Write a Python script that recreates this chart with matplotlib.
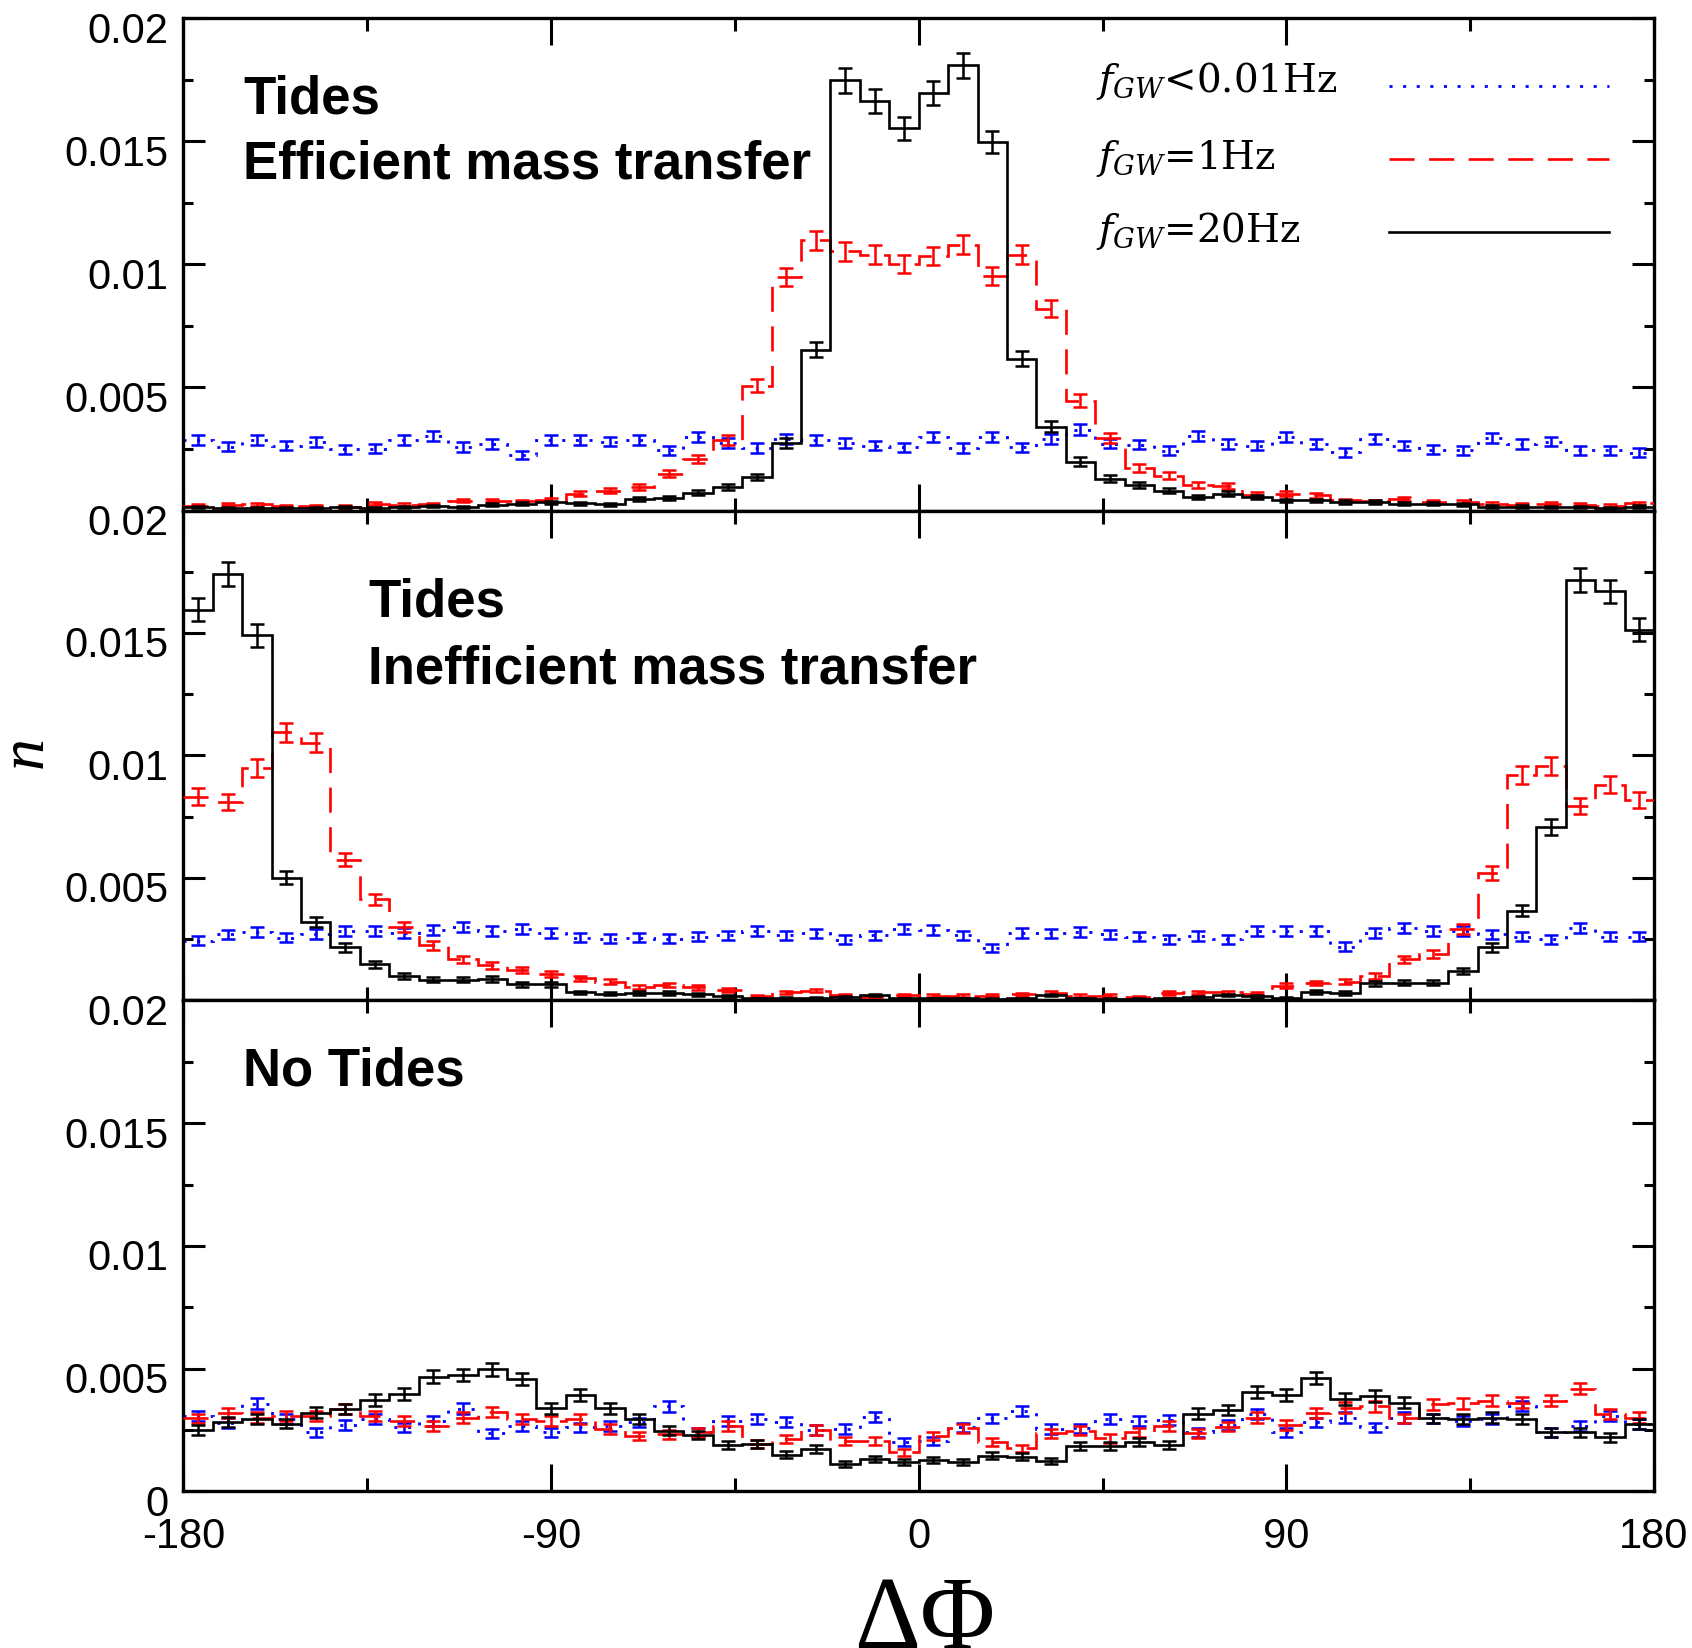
import numpy as np
import matplotlib
matplotlib.use("Agg")
import matplotlib.pyplot as plt
from matplotlib.lines import Line2D
from matplotlib.ticker import FixedLocator, MultipleLocator
from matplotlib.transforms import ScaledTranslation

plt.rcParams["font.family"] = ["Liberation Sans", "DejaVu Sans"]
plt.rcParams["mathtext.fontset"] = "dejavuserif"

# ---- binning of the phase difference (degrees), 50 bins over [-180, 180] ----
phase_edges = np.linspace(-180.0, 180.0, 51)
x_ticks = [-180, -90, 0, 90, 180]
x_minor = [-135, -45, 45, 135]
y_ticks = [0, 0.005, 0.01, 0.015, 0.02]
y_labels_full = ["0", "0.005", "0.01", "0.015", "0.02"]
y_labels_upper = ["", "0.005", "0.01", "0.015", "0.02"]

# sample size per model, used for the Poisson error on each bin
n_sample = 10000

# ---- Tides, efficient mass transfer ----
eff_low = [0.00287, 0.00260, 0.00285, 0.00264, 0.00278, 0.00248, 0.00251, 0.00285, 0.00303, 0.00258,
           0.00271, 0.00226, 0.00285, 0.00287, 0.00280, 0.00285, 0.00244, 0.00298, 0.00275, 0.00254,
           0.00291, 0.00285, 0.00275, 0.00264, 0.00257, 0.00300, 0.00254, 0.00300, 0.00257, 0.00290,
           0.00329, 0.00272, 0.00268, 0.00242, 0.00303, 0.00270, 0.00264, 0.00300, 0.00270, 0.00237,
           0.00291, 0.00264, 0.00247, 0.00244, 0.00294, 0.00270, 0.00280, 0.00244, 0.00244, 0.00234]
eff_1hz = [0.00020, 0.00024, 0.00025, 0.00018, 0.00018, 0.00016, 0.00027, 0.00024, 0.00026, 0.00040,
           0.00040, 0.00037, 0.00042, 0.00068, 0.00081, 0.00095, 0.00150, 0.00210, 0.00285, 0.00508,
           0.00949, 0.01098, 0.01053, 0.01040, 0.01003, 0.01034, 0.01080, 0.00953, 0.01040, 0.00820,
           0.00447, 0.00296, 0.00174, 0.00142, 0.00102, 0.00100, 0.00064, 0.00068, 0.00062, 0.00041,
           0.00037, 0.00045, 0.00034, 0.00034, 0.00027, 0.00024, 0.00027, 0.00024, 0.00020, 0.00030]
eff_20hz = [0.00015, 0.00012, 0.00010, 0.00010, 0.00012, 0.00015, 0.00012, 0.00015, 0.00018, 0.00015,
            0.00024, 0.00028, 0.00033, 0.00030, 0.00026, 0.00045, 0.00050, 0.00072, 0.00095, 0.00136,
            0.00275, 0.00653, 0.01748, 0.01663, 0.01554, 0.01697, 0.01809, 0.01498, 0.00617, 0.00341,
            0.00199, 0.00129, 0.00105, 0.00080, 0.00054, 0.00068, 0.00054, 0.00041, 0.00041, 0.00034,
            0.00034, 0.00027, 0.00027, 0.00025, 0.00016, 0.00016, 0.00014, 0.00014, 0.00012, 0.00016]

# ---- Tides, inefficient mass transfer ----
ineff_low = [0.00243, 0.00270, 0.00279, 0.00256, 0.00272, 0.00283, 0.00283, 0.00276, 0.00287, 0.00300,
             0.00283, 0.00290, 0.00276, 0.00256, 0.00252, 0.00256, 0.00252, 0.00260, 0.00266, 0.00283,
             0.00266, 0.00274, 0.00247, 0.00266, 0.00293, 0.00287, 0.00266, 0.00215, 0.00276, 0.00274,
             0.00280, 0.00270, 0.00260, 0.00250, 0.00263, 0.00250, 0.00283, 0.00283, 0.00283, 0.00220,
             0.00276, 0.00297, 0.00283, 0.00283, 0.00270, 0.00260, 0.00250, 0.00294, 0.00260, 0.00260]
ineff_1hz = [0.00832, 0.00809, 0.00948, 0.01094, 0.01052, 0.00575, 0.00412, 0.00300, 0.00225, 0.00168,
             0.00144, 0.00125, 0.00107, 0.00090, 0.00076, 0.00056, 0.00063, 0.00053, 0.00043, 0.00016,
             0.00033, 0.00040, 0.00022, 0.00013, 0.00022, 0.00020, 0.00020, 0.00020, 0.00026, 0.00030,
             0.00020, 0.00020, 0.00014, 0.00030, 0.00033, 0.00033, 0.00027, 0.00060, 0.00071, 0.00076,
             0.00100, 0.00168, 0.00189, 0.00290, 0.00520, 0.00920, 0.00957, 0.00794, 0.00880, 0.00819]
ineff_20hz = [0.01594, 0.01740, 0.01490, 0.00500, 0.00320, 0.00216, 0.00147, 0.00100, 0.00084, 0.00084,
              0.00088, 0.00065, 0.00065, 0.00033, 0.00028, 0.00030, 0.00030, 0.00026, 0.00016, 0.00008,
              0.00010, 0.00010, 0.00015, 0.00022, 0.00008, 0.00008, 0.00008, 0.00006, 0.00008, 0.00022,
              0.00008, 0.00006, 0.00006, 0.00008, 0.00012, 0.00022, 0.00016, 0.00010, 0.00035, 0.00030,
              0.00069, 0.00073, 0.00073, 0.00120, 0.00216, 0.00367, 0.00708, 0.01717, 0.01670, 0.01514]

# ---- No tides ----
notide_low = [0.00308, 0.00280, 0.00358, 0.00294, 0.00240, 0.00270, 0.00294, 0.00261, 0.00287, 0.00337,
              0.00236, 0.00267, 0.00240, 0.00261, 0.00267, 0.00281, 0.00346, 0.00240, 0.00287, 0.00294,
              0.00283, 0.00250, 0.00254, 0.00304, 0.00202, 0.00206, 0.00261, 0.00297, 0.00328, 0.00254,
              0.00257, 0.00294, 0.00287, 0.00290, 0.00240, 0.00270, 0.00314, 0.00240, 0.00281, 0.00301,
              0.00261, 0.00301, 0.00297, 0.00287, 0.00294, 0.00348, 0.00240, 0.00267, 0.00308, 0.00274]
notide_1hz = [0.00297, 0.00320, 0.00301, 0.00308, 0.00308, 0.00335, 0.00308, 0.00287, 0.00267, 0.00301,
              0.00324, 0.00294, 0.00287, 0.00294, 0.00254, 0.00226, 0.00233, 0.00240, 0.00267, 0.00193,
              0.00213, 0.00250, 0.00206, 0.00206, 0.00159, 0.00226, 0.00257, 0.00202, 0.00175, 0.00236,
              0.00247, 0.00216, 0.00240, 0.00267, 0.00236, 0.00264, 0.00301, 0.00271, 0.00319, 0.00341,
              0.00346, 0.00297, 0.00355, 0.00359, 0.00369, 0.00362, 0.00370, 0.00419, 0.00315, 0.00301]
notide_20hz = [0.00250, 0.00283, 0.00294, 0.00276, 0.00321, 0.00335, 0.00372, 0.00396, 0.00467, 0.00474,
               0.00498, 0.00457, 0.00339, 0.00393, 0.00339, 0.00294, 0.00247, 0.00230, 0.00189, 0.00193,
               0.00149, 0.00172, 0.00111, 0.00132, 0.00121, 0.00128, 0.00121, 0.00145, 0.00141, 0.00124,
               0.00186, 0.00186, 0.00202, 0.00188, 0.00317, 0.00331, 0.00405, 0.00392, 0.00463, 0.00376,
               0.00389, 0.00362, 0.00297, 0.00294, 0.00301, 0.00294, 0.00240, 0.00240, 0.00220, 0.00274]

series_names = [r"$f_{GW}$<0.01Hz", r"$f_{GW}$=1Hz", r"$f_{GW}$=20Hz"]
series_colors = ["#0000ff", "#ff0000", "#000000"]
series_styles = [(0, (1.1, 3.8)), (0, (9.5, 5.5)), "-"]
series_widths = [2.0, 1.9, 1.9]

# ---- figure and stacked panels (pixel geometry at 100 dpi) ----
FIG_W, FIG_H = 1692, 1649
fig = plt.figure(figsize=(FIG_W / 100, FIG_H / 100), dpi=100)
left_px, right_px = 183.4, 1654.0


def panel_rect(top_px, bottom_px):
    return [left_px / FIG_W, 1 - bottom_px / FIG_H,
            (right_px - left_px) / FIG_W, (bottom_px - top_px) / FIG_H]


ax_top = fig.add_axes(panel_rect(19.4, 511.5))
ax_mid = fig.add_axes(panel_rect(511.5, 1001.4))
ax_bot = fig.add_axes(panel_rect(1001.4, 1492.4))

centers = 0.5 * (phase_edges[:-1] + phase_edges[1:])
widths = np.diff(phase_edges)


def draw_series(ax, values, color, ls, lw, z):
    v = np.asarray(values)
    # Poisson counting error of a per-degree density histogram
    err = np.sqrt(v / (widths * n_sample))
    ax.stairs(v, phase_edges, baseline=None, color=color, linestyle=ls,
              linewidth=lw, zorder=z)
    ax.errorbar(centers, v, yerr=err, fmt="none", ecolor=color, elinewidth=1.8,
                capsize=5.0, capthick=1.8, zorder=z)


panels = [
    (ax_top, [eff_low, eff_1hz, eff_20hz], y_labels_upper),
    (ax_mid, [ineff_low, ineff_1hz, ineff_20hz], y_labels_upper),
    (ax_bot, [notide_low, notide_1hz, notide_20hz], y_labels_full),
]

label_shift = ScaledTranslation(0, -8 / 100, fig.dpi_scale_trans)

for ax, series, ylabels in panels:
    for i, vals in enumerate(series):
        draw_series(ax, vals, series_colors[i], series_styles[i], series_widths[i], 2 + i)
    ax.set_xlim(-180, 180)
    ax.set_ylim(0, 0.02)
    ax.xaxis.set_major_locator(FixedLocator(x_ticks))
    ax.xaxis.set_minor_locator(FixedLocator(x_minor))
    ax.set_yticks(y_ticks, labels=ylabels)
    ax.yaxis.set_minor_locator(MultipleLocator(0.0025))
    ax.tick_params(which="both", direction="in", top=True, right=True,
                   width=2.2, color="black", labelsize=30)
    ax.tick_params(axis="x", which="major", length=19.4, pad=18)
    ax.tick_params(axis="x", which="minor", length=9.4)
    ax.tick_params(axis="y", which="major", length=15.8, pad=11)
    ax.tick_params(axis="y", which="minor", length=7.2)
    for sp in ax.spines.values():
        sp.set_linewidth(2.4)
    for t in ax.yaxis.get_major_ticks():
        t.label1.set_transform(t.label1.get_transform() + label_shift)

ax_top.tick_params(labelbottom=False)
ax_mid.tick_params(labelbottom=False)
ax_bot.set_xticks(x_ticks, labels=[str(v) for v in x_ticks])

# ---- panel captions ----
cap_kw = dict(fontsize=38, fontweight="bold", ha="left", va="baseline")
ax_top.text(0.0405, 0.8086, "Tides", transform=ax_top.transAxes, **cap_kw)
ax_top.text(0.0405, 0.6765, "Efficient mass transfer", transform=ax_top.transAxes, **cap_kw)
ax_mid.text(0.1255, 0.7853, "Tides", transform=ax_mid.transAxes, **cap_kw)
ax_mid.text(0.1255, 0.6493, "Inefficient mass transfer", transform=ax_mid.transAxes, **cap_kw)
ax_bot.text(0.0405, 0.8283, "No Tides", transform=ax_bot.transAxes, **cap_kw)

# ---- legend drawn inside the top panel ----
legend_text_y = [0.8522, 0.6950, 0.5480]
legend_line_y = [0.8632, 0.7143, 0.5660]
for i in range(3):
    ax_top.text(0.6205, legend_text_y[i], series_names[i], transform=ax_top.transAxes,
                fontsize=28, family="DejaVu Serif", ha="left", va="baseline")
    ax_top.add_line(Line2D([0.8198, 0.9694], [legend_line_y[i]] * 2,
                           transform=ax_top.transAxes, color=series_colors[i],
                           linestyle=series_styles[i], linewidth=series_widths[i],
                           clip_on=False))

# ---- axis titles ----
fig.text(27 / FIG_W, 1 - 752 / FIG_H, "n", rotation=90, fontsize=46, style="italic",
         family="Liberation Serif", ha="center", va="center")
fig.text(925 / FIG_W, 0.0, "\u0394\u03a6", fontsize=74, family="Liberation Serif",
         ha="center", va="baseline")

fig.savefig("out.png", dpi=100)
